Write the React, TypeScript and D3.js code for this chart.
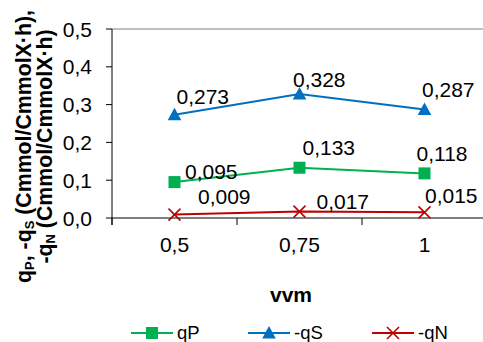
import React from "react";
import * as d3 from "d3";

const categories = ["0,5", "0,75", "1"];
const qP = [0.095, 0.133, 0.118];
const qS = [0.273, 0.328, 0.287];
const qN = [0.009, 0.017, 0.015];
const yTicks = [0, 0.1, 0.2, 0.3, 0.4, 0.5];

// label offsets (dx, dy) from each point, to the label's left/baseline
const offP = [[10.5, -3], [3, -13], [-8, -12]];
const offS = [[2, -11], [-6.5, -7], [-2.5, -13]];
const offN = [[23.5, -11], [17, -3], [0.5, -9]];

const W = 483, H = 342;
const FONT = "'Liberation Sans', Arial, sans-serif";

export default function App() {
  const x = d3.scaleBand<string>().domain(categories).range([112, 487]).padding(0);
  const y = d3.scaleLinear().domain([0, 0.5]).range([218, 29]);
  const cx = (c: string) => (x(c) as number) + x.bandwidth() / 2;
  const fmt1 = (v: number) => d3.format(".1f")(v).replace(".", ",");
  const fmt3 = (v: number) => d3.format(".3f")(v).replace(".", ",");
  const line = d3.line<number>().x((_, i) => cx(categories[i])).y((d) => y(d));

  const series = [
    { name: "qP", values: qP, color: "#00B050", marker: "square", off: offP },
    { name: "-qS", values: qS, color: "#0070C0", marker: "triangle", off: offS },
    { name: "-qN", values: qN, color: "#C00000", marker: "x", off: offN },
  ];

  const marker = (type: string, px: number, py: number, color: string, key: string) => {
    if (type === "square") return <rect key={key} x={px - 6} y={py - 6} width={12} height={12} fill={color} />;
    if (type === "triangle") {
      const p = d3.path();
      p.moveTo(px, py - 7);
      p.lineTo(px + 6.8, py + 5.5);
      p.lineTo(px - 6.8, py + 5.5);
      p.closePath();
      return <path key={key} d={p.toString()} fill={color} />;
    }
    return (
      <g key={key} stroke={color} strokeWidth={1.6}>
        <line x1={px - 6} y1={py - 6} x2={px + 6} y2={py + 6} />
        <line x1={px - 6} y1={py + 6} x2={px + 6} y2={py - 6} />
      </g>
    );
  };

  const bounds = [...categories.map((c) => x(c) as number), 487];
  const legendX = [131, 248, 372];

  return (
    <svg width={W} height={H} style={{ position: "absolute", left: 0, top: 0, background: "#fff" }} fontFamily={FONT}>
      <rect width={W} height={H} fill="#fff" />
      {/* plot top border */}
      <line x1={112} x2={487} y1={y(0.5)} y2={y(0.5)} stroke="#808080" strokeWidth={1} />
      {/* y axis */}
      <line x1={112} x2={112} y1={y(0.5)} y2={225} stroke="#000" strokeWidth={1} />
      {yTicks.map((t) => (
        <g key={t}>
          <line x1={106} x2={112} y1={y(t)} y2={y(t)} stroke="#000" />
          <text x={92} y={y(t) + 7.5} textAnchor="end" fontSize={21} fill="#000">{fmt1(t)}</text>
        </g>
      ))}
      {/* x axis */}
      <line x1={112} x2={487} y1={218} y2={218} stroke="#000" strokeWidth={1} />
      {bounds.map((b, i) => (
        <line key={i} x1={b} x2={b} y1={218} y2={225} stroke="#000" />
      ))}
      {categories.map((c) => (
        <text key={c} x={cx(c)} y={252} textAnchor="middle" fontSize={21} fill="#000">{c}</text>
      ))}
      {/* series */}
      {series.map((s) => (
        <g key={s.name}>
          <path d={line(s.values) as string} fill="none" stroke={s.color} strokeWidth={2} />
          {s.values.map((v, i) => marker(s.marker, cx(categories[i]), y(v), s.color, s.name + i))}
          {s.values.map((v, i) => (
            <text key={"l" + i} x={cx(categories[i]) + s.off[i][0]} y={y(v) + s.off[i][1]} fontSize={21} fill="#000">
              {fmt3(v)}
            </text>
          ))}
        </g>
      ))}
      {/* axis titles */}
      <text x={291} y={302} textAnchor="middle" fontSize={21} fontWeight="bold" fill="#000">vvm</text>
      <g transform="translate(31,146.5) rotate(-90)">
        <text x={0} y={0} textAnchor="middle" fontSize={21.3} fontWeight="bold" fill="#000">
          q<tspan fontSize={13} dy={2.5}>P</tspan><tspan dy={-2.5}>, -q</tspan><tspan fontSize={13} dy={2.5}>S</tspan><tspan dy={-2.5}> (Cmmol/CmmolX·h),</tspan>
        </text>
      </g>
      <g transform="translate(52,146.5) rotate(-90)">
        <text x={0} y={0} textAnchor="middle" fontSize={21.3} fontWeight="bold" fill="#000">
          -q<tspan fontSize={13} dy={2.5}>N</tspan><tspan dy={-2.5}> (Cmmol/CmmolX·h)</tspan>
        </text>
      </g>
      {/* legend */}
      {series.map((s, i) => (
        <g key={"lg" + s.name}>
          <line x1={legendX[i]} x2={legendX[i] + 42} y1={333} y2={333} stroke={s.color} strokeWidth={2} />
          {marker(s.marker, legendX[i] + 21, 333, s.color, "lm" + i)}
          <text x={legendX[i] + 46} y={339} fontSize={18.5} fill="#000">{s.name}</text>
        </g>
      ))}
    </svg>
  );
}
